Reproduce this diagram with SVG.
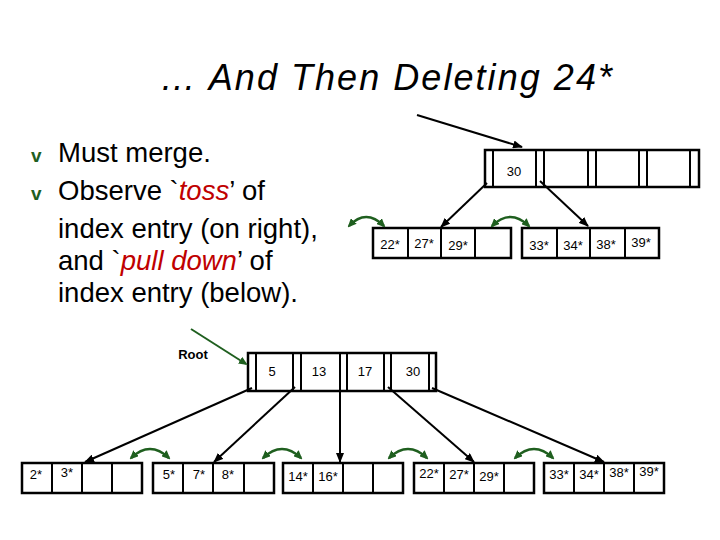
<svg xmlns="http://www.w3.org/2000/svg" width="720" height="540" viewBox="0 0 720 540">
<style>
.b{fill:#fff;stroke:#000;stroke-width:2.5}
.d{stroke:#000;stroke-width:2}
.t{font-family:"Liberation Sans",Arial,sans-serif;font-size:13px;fill:#000}
.c{stroke:#000;stroke-width:2;fill:none;marker-end:url(#ah)}
.g{stroke:#1f5f1f;stroke-width:2.5;fill:none;marker-start:url(#gh);marker-end:url(#gh)}
.m{font-family:"Liberation Sans",Arial,sans-serif;font-size:27.5px;fill:#000}
</style>
<defs>
<marker id="ah" markerWidth="10" markerHeight="8" refX="9" refY="4" orient="auto" markerUnits="userSpaceOnUse"><path d="M0,0L10,4L0,8z" fill="#000"/></marker>
<marker id="gh" markerWidth="9" markerHeight="8" refX="7" refY="4" orient="auto-start-reverse" markerUnits="userSpaceOnUse"><path d="M0,0L9,4L0,8z" fill="#1f5f1f"/></marker>
</defs>
<rect width="720" height="540" fill="#fff"/>
<text x="160" y="90" textLength="452" font-family="Liberation Sans,Arial,sans-serif" font-size="36" font-style="italic">… And Then Deleting 24*</text>
<g id="bullets">
<text x="31" y="162" font-family="Liberation Sans,Arial,sans-serif" font-size="19" font-weight="bold" fill="#1f5f1f">v</text>
<text x="31" y="200" font-family="Liberation Sans,Arial,sans-serif" font-size="19" font-weight="bold" fill="#1f5f1f">v</text>
<text x="58" y="162" class="m">Must merge.</text>
<text x="58" y="200" class="m">Observe `<tspan fill="#c00000" font-style="italic">toss</tspan>’ of</text>
<text x="58" y="238" class="m">index entry (on right),</text>
<text x="58" y="270" class="m">and `<tspan fill="#c00000" font-style="italic">pull down</tspan>’ of</text>
<text x="58" y="302" class="m">index entry (below).</text>
</g>
<g id="topnode">
<rect class="b" x="485" y="150" width="214" height="37"/>
<path class="d" d="M493,150V187M536,150V187M544,150V187M588,150V187M596,150V187M639,150V187M647,150V187M690,150V187"/>
<text class="t" x="514" y="176" text-anchor="middle">30</text>
</g>
<g id="topleaf1">
<rect class="b" x="373" y="228" width="138" height="30"/>
<path class="d" d="M408,228V258M441,228V258M475,228V258"/>
<text class="t" x="390" y="249" text-anchor="middle">22*</text><text class="t" x="424" y="248" text-anchor="middle">27*</text><text class="t" x="458" y="250" text-anchor="middle">29*</text>
</g>
<g id="topleaf2">
<rect class="b" x="522" y="228" width="137" height="30"/>
<path class="d" d="M557,228V258M590,228V258M625,228V258"/>
<text class="t" x="539" y="250" text-anchor="middle">33*</text><text class="t" x="573" y="250" text-anchor="middle">34*</text><text class="t" x="606" y="249" text-anchor="middle">38*</text><text class="t" x="641" y="247" text-anchor="middle">39*</text>
</g>
<g id="root">
<rect class="b" x="248" y="353" width="188" height="38"/>
<path class="d" d="M256,353V391M293,353V391M301,353V391M340,353V391M347,353V391M384,353V391M391,353V391M429,353V391"/>
<text class="t" x="272" y="376" text-anchor="middle">5</text><text class="t" x="319" y="376" text-anchor="middle">13</text><text class="t" x="365" y="376" text-anchor="middle">17</text><text class="t" x="413" y="376" text-anchor="middle">30</text>
</g>
<text id="rootlabel" x="193" y="359" text-anchor="middle" font-family="Liberation Sans,Arial,sans-serif" font-size="13" font-weight="bold">Root</text>
<g id="leaf1"><rect class="b" x="22" y="463" width="120" height="30"/><path class="d" d="M52,463V493M82,463V493M112,463V493"/><text class="t" x="36" y="479" text-anchor="middle">2*</text><text class="t" x="67" y="477" text-anchor="middle">3*</text></g>
<g id="leaf2"><rect class="b" x="153" y="463" width="121" height="30"/><path class="d" d="M183,463V493M213,463V493M244,463V493"/><text class="t" x="169" y="479" text-anchor="middle">5*</text><text class="t" x="199" y="479" text-anchor="middle">7*</text><text class="t" x="228" y="479" text-anchor="middle">8*</text></g>
<g id="leaf3"><rect class="b" x="283" y="463" width="120" height="30"/><path class="d" d="M313,463V493M343,463V493M373,463V493"/><text class="t" x="298" y="481" text-anchor="middle">14*</text><text class="t" x="328" y="481" text-anchor="middle">16*</text></g>
<g id="leaf4"><rect class="b" x="414" y="463" width="120" height="30"/><path class="d" d="M444,463V493M474,463V493M504,463V493"/><text class="t" x="429" y="478" text-anchor="middle">22*</text><text class="t" x="459" y="479" text-anchor="middle">27*</text><text class="t" x="489" y="481" text-anchor="middle">29*</text></g>
<g id="leaf5"><rect class="b" x="544" y="463" width="120" height="30"/><path class="d" d="M574,463V493M604,463V493M634,463V493"/><text class="t" x="559" y="479" text-anchor="middle">33*</text><text class="t" x="589" y="479" text-anchor="middle">34*</text><text class="t" x="619" y="477" text-anchor="middle">38*</text><text class="t" x="649" y="476" text-anchor="middle">39*</text></g>
<g id="connectors">
<path class="c" d="M417,115L522,147"/>
<path class="c" d="M487,183L441,227"/>
<path class="c" d="M540,181L588,226"/>
<path class="c" d="M252,388L85,462"/>
<path class="c" d="M295,387L214,462"/>
<path class="c" d="M340,387L340,462"/>
<path class="c" d="M388,387L474,462"/>
<path class="c" d="M432,388L604,462"/>
<path d="M191,329L246,364" stroke="#1f5f1f" stroke-width="2" fill="none" marker-end="url(#gh)"/>
<path class="g" d="M349,226Q366,208 384,226"/>
<path class="g" d="M492,226Q510,208 529,226"/>
<path class="g" d="M131,458Q150,440 169,458"/>
<path class="g" d="M263,458Q282,440 301,458"/>
<path class="g" d="M389,458Q408,440 427,458"/>
<path class="g" d="M515,458Q534,440 553,458"/>
</g>
</svg>
